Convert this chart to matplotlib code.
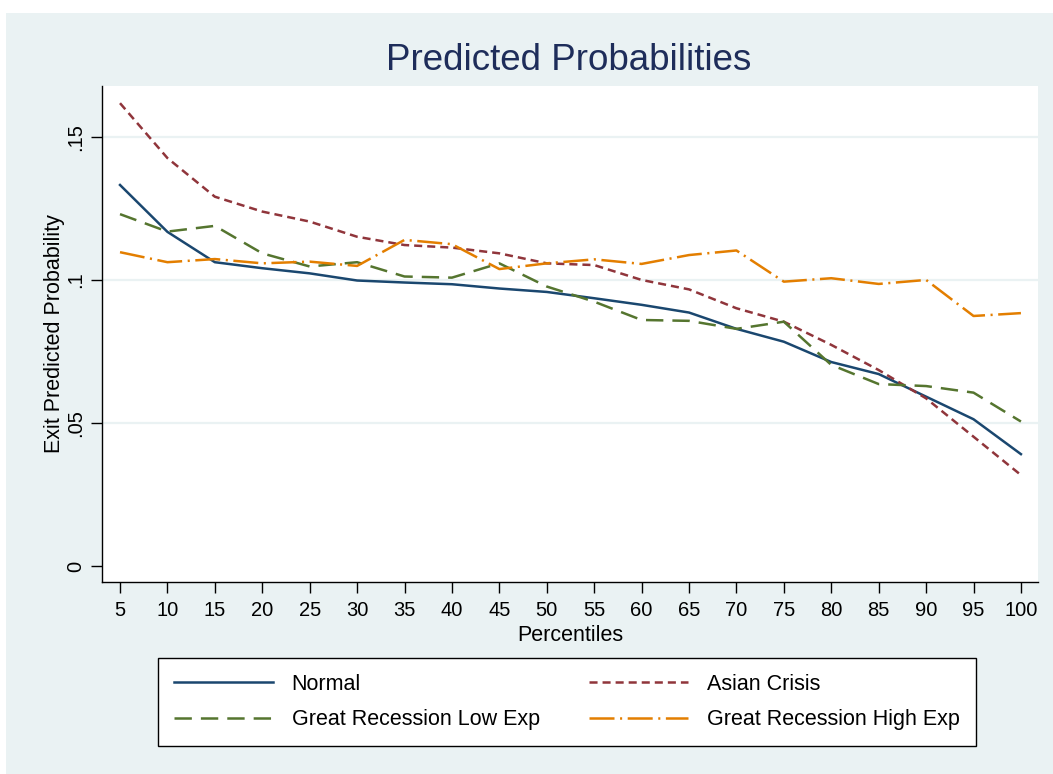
# Predicted exit probabilities by percentile, Stata s2color look
import matplotlib
matplotlib.use("Agg")
import matplotlib.pyplot as plt
from matplotlib.patches import Rectangle

plt.rcParams["font.family"] = ["Liberation Sans", "DejaVu Sans"]
plt.rcParams["lines.scale_dashes"] = False

# ---------- DATA ----------
percentiles = [5, 10, 15, 20, 25, 30, 35, 40, 45, 50,
               55, 60, 65, 70, 75, 80, 85, 90, 95, 100]

normal = [0.1332, 0.1168, 0.1062, 0.1041, 0.1023, 0.0998, 0.0991, 0.0985, 0.0970, 0.0958,
          0.0936, 0.0913, 0.0886, 0.0829, 0.0784, 0.0713, 0.0671, 0.0592, 0.0513, 0.0391]
asian_crisis = [0.1618, 0.1426, 0.1291, 0.1239, 0.1204, 0.1151, 0.1122, 0.1113, 0.1093, 0.1058,
                0.1052, 0.1000, 0.0967, 0.0901, 0.0854, 0.0773, 0.0685, 0.0586, 0.0452, 0.0318]
gr_low_exp = [0.1230, 0.1169, 0.1189, 0.1093, 0.1047, 0.1062, 0.1012, 0.1008, 0.1058, 0.0977,
              0.0924, 0.0860, 0.0857, 0.0829, 0.0854, 0.0703, 0.0636, 0.0629, 0.0606, 0.0505]
gr_high_exp = [0.1097, 0.1062, 0.1073, 0.1058, 0.1064, 0.1049, 0.1140, 0.1125, 0.1038, 0.1058,
               0.1072, 0.1056, 0.1087, 0.1103, 0.0994, 0.1006, 0.0986, 0.1000, 0.0874, 0.0884]

series_labels = ["Normal", "Asian Crisis", "Great Recession Low Exp", "Great Recession High Exp"]
y_ticks = [0, 0.05, 0.10, 0.15]
y_ticklabels = ["0", ".05", ".1", ".15"]

# ---------- STYLE ----------
BG = "#EAF2F3"
COLORS = ["#1A476F", "#90353B", "#55752F", "#E37E00"]
DASHES = [None, (0, (5.8, 3.6)), (0, (12.5, 6.5)), (0, (18, 4, 1.5, 4))]

W, H = 1053, 774
fig = plt.figure(figsize=(W / 100, H / 100), dpi=100, facecolor="white")

# graph region background (thin white strip at top/left like the original)
fig.patches.append(Rectangle((6 / W, 0), 1, 1 - 13 / H, transform=fig.transFigure,
                             facecolor=BG, edgecolor="none", zorder=-5))

ax = fig.add_axes([102 / W, 1 - 582 / H, (1038 - 102) / W, (582 - 86) / H])
ax.set_facecolor("white")
ax.set_zorder(1)

series = [normal, asian_crisis, gr_low_exp, gr_high_exp]
lines = []
for vals, lab, col, ls in zip(series, series_labels, COLORS, DASHES):
    ln, = ax.plot(percentiles, vals, color=col, lw=1.8, label=lab,
                  linestyle=ls if ls is not None else "-", zorder=3)
    lines.append(ln)

ax.set_xlim(3.1, 101.8)
ax.set_ylim(-0.0056, 0.1678)

ax.set_xticks(percentiles)
ax.set_xticklabels([str(p) for p in percentiles])
ax.set_yticks(y_ticks)
ax.set_yticklabels(y_ticklabels, rotation=90, va="center")

# gridlines (not at 0, like Stata)
for yv in y_ticks[1:]:
    ax.axhline(yv, color=BG, lw=1.6, zorder=1)

for side in ["top", "right"]:
    ax.spines[side].set_visible(False)
for side in ["left", "bottom"]:
    ax.spines[side].set_linewidth(1.0)
    ax.spines[side].set_color("black")

ax.tick_params(axis="both", length=8, width=1.0, color="black", labelsize=14.5)
ax.tick_params(axis="x", pad=6)
ax.tick_params(axis="y", pad=4)

ax.set_xlabel("Percentiles", fontsize=15.5, labelpad=3)
ax.set_ylabel("Exit Predicted Probability", fontsize=15.5, labelpad=1)

fig.text(569 / W, 1 - 60 / H, "Predicted Probabilities", ha="center", va="center",
         fontsize=26.5, color="#1E2D5A")

# row-wise order: legend fills column by column
order = [0, 2, 1, 3]
leg = fig.legend([lines[i] for i in order], [series_labels[i] for i in order],
                 loc="center", bbox_to_anchor=(567 / W, 1 - 702 / H), ncol=2,
                 fontsize=15.5, frameon=True, fancybox=False, edgecolor="black",
                 facecolor="white", framealpha=1, handlelength=4.6, handletextpad=0.85,
                 columnspacing=2.3, borderpad=0.75, labelspacing=0.66)
leg.get_frame().set_linewidth(1.0)

fig.savefig("out.png", dpi=100, facecolor=fig.get_facecolor())
